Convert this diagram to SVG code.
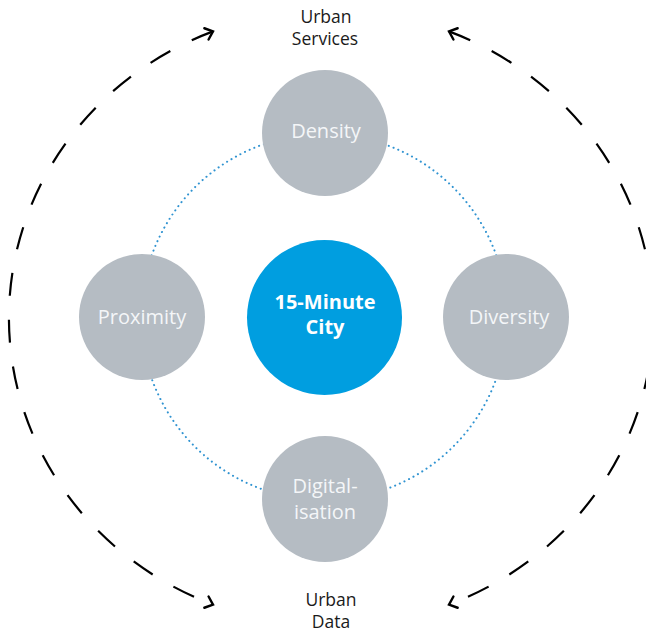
<svg xmlns="http://www.w3.org/2000/svg" width="646" height="633" viewBox="0 0 646 633">
  <style>
    .node { fill: #b5bcc3; }
    .hub { fill: #009ee0; }
    .lbl { font-family: "Open Sans", "Noto Sans", sans-serif; font-size: 20px; fill: #f4f6f8; text-anchor: middle; }
    .hublbl { font-family: "Open Sans", "Noto Sans", sans-serif; font-size: 20px; font-weight: bold; fill: #ffffff; text-anchor: middle; }
    .ext { font-family: "Open Sans", "Noto Sans", sans-serif; font-size: 17.5px; fill: #1a1a1a; text-anchor: middle; }
    .ring { fill: none; stroke: #2f93d1; stroke-width: 2; stroke-dasharray: 0.1 5; stroke-linecap: round; }
    .arc { fill: none; stroke: #000000; stroke-width: 2.2; stroke-dasharray: 23 24; }
  </style>
  <defs>
    <marker id="chev" markerUnits="userSpaceOnUse" markerWidth="20" markerHeight="20" refX="10" refY="10" orient="auto-start-reverse" viewBox="0 0 20 20">
      <path d="M3,4 L10,10 L3,16" fill="none" stroke="#000000" stroke-width="2.4" stroke-linecap="round" stroke-linejoin="miter"/>
    </marker>
  </defs>
  <rect width="646" height="633" fill="#ffffff"/>

  <g id="connectors">
    <circle class="ring" cx="324" cy="317" r="183"/>
    <path class="arc" d="M213,31.4 A322,308 0 0 0 213,604.6" marker-start="url(#chev)" marker-end="url(#chev)"/>
    <path class="arc" d="M449,31.4 A322,308 0 0 1 449,604.6" marker-start="url(#chev)" marker-end="url(#chev)"/>
  </g>

  <g id="density">
    <circle class="node" cx="325" cy="133" r="63"/>
    <text class="lbl" x="326" y="138">Density</text>
  </g>
  <g id="proximity">
    <circle class="node" cx="142" cy="317" r="63"/>
    <text class="lbl" x="142" y="324">Proximity</text>
  </g>
  <g id="diversity">
    <circle class="node" cx="506" cy="317" r="63"/>
    <text class="lbl" x="509" y="324">Diversity</text>
  </g>
  <g id="digitalisation">
    <circle class="node" cx="325" cy="499" r="63"/>
    <text class="lbl" x="325" y="493">Digital-</text>
    <text class="lbl" x="325" y="519">isation</text>
  </g>
  <g id="city">
    <circle class="hub" cx="324.5" cy="317.5" r="77.5"/>
    <text class="hublbl" x="325" y="309">15-Minute</text>
    <text class="hublbl" x="325" y="334">City</text>
  </g>
  <g id="urban-services">
    <text class="ext" x="326" y="23">Urban</text>
    <text class="ext" x="325" y="45">Services</text>
  </g>
  <g id="urban-data">
    <text class="ext" x="331" y="606">Urban</text>
    <text class="ext" x="331" y="628">Data</text>
  </g>
</svg>
